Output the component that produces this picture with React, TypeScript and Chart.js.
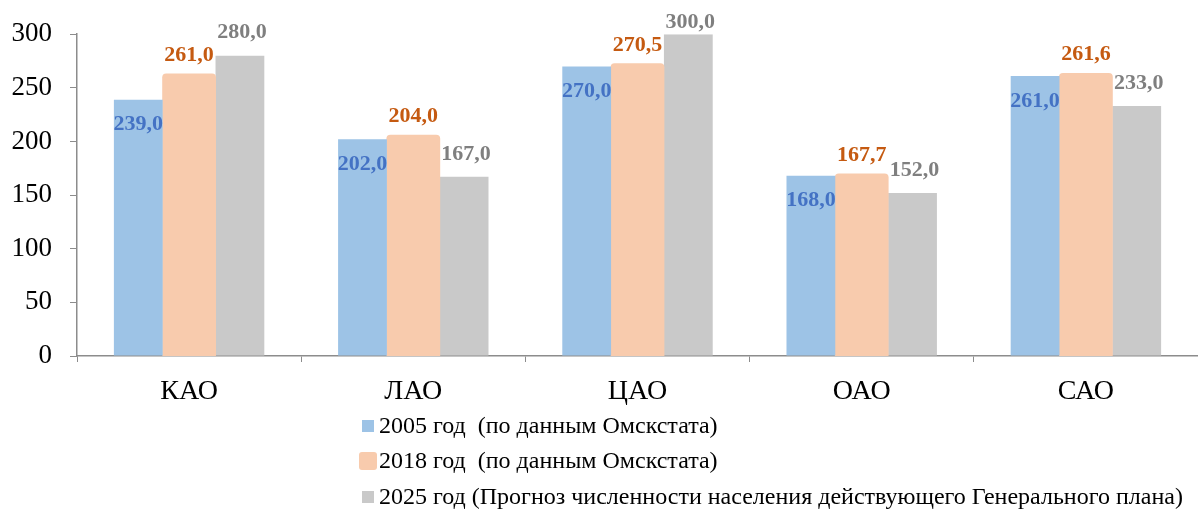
import React, { useEffect, useRef } from "react";
import { Chart, registerables } from "chart.js";

Chart.register(...registerables);

const categories = ["КАО", "ЛАО", "ЦАО", "ОАО", "САО"];
const values2005 = [239.0, 202.0, 270.0, 168.0, 261.0];
const values2018 = [261.0, 204.0, 270.5, 167.7, 261.6];
const values2025 = [280.0, 167.0, 300.0, 152.0, 233.0];
const seriesLabels = [
  "2005 год  (по данным Омскстата)",
  "2018 год  (по данным Омскстата)",
  "2025 год (Прогноз численности населения действующего Генерального плана)",
];
const yTicks = [0, 50, 100, 150, 200, 250, 300];

const FILL = ["#9DC3E6", "#F8CBAD", "#C9C9C9"];
const LABEL_COLOR = ["#4472C4", "#C55A11", "#7F7F7F"];
const LABEL_OFFSET = [25, -21, -23];
const SERIF = "'Liberation Serif', 'Times New Roman', serif";

const fmt = (v: number) => v.toFixed(1).replace(".", ",");

const valueLabels = {
  id: "valueLabels",
  afterDatasetsDraw(chart: any) {
    const ctx = chart.ctx;
    ctx.save();
    ctx.font = `bold 22px ${SERIF}`;
    ctx.textAlign = "center";
    ctx.textBaseline = "middle";
    chart.data.datasets.forEach((ds: any, di: number) => {
      const meta = chart.getDatasetMeta(di);
      meta.data.forEach((el: any, i: number) => {
        const v = ds.data[i];
        let y = el.y + LABEL_OFFSET[di];
        if (y < 22) y = 22;
        ctx.fillStyle = LABEL_COLOR[di];
        ctx.fillText(fmt(v), el.x + (di === 2 ? 2 : 0), y);
      });
    });
    ctx.restore();
  },
};

const customLegend = {
  id: "customLegend",
  afterDraw(chart: any) {
    const ctx = chart.ctx;
    ctx.save();
    ctx.font = `24px ${SERIF}`;
    ctx.textAlign = "left";
    ctx.textBaseline = "middle";
    const rows = [426, 461, 497];
    chart.data.datasets.forEach((ds: any, di: number) => {
      const cy = rows[di];
      ctx.fillStyle = ds.backgroundColor;
      if (di === 1) {
        ctx.beginPath();
        (ctx as any).roundRect(359, cy - 9, 18, 18, 3);
        ctx.fill();
      } else {
        ctx.fillRect(362, cy - 6, 12, 12);
      }
      ctx.fillStyle = "#000";
      ctx.fillText(ds.label, 379, cy + 1);
    });
    ctx.restore();
  },
};

export default function App() {
  const ref = useRef<HTMLCanvasElement | null>(null);
  useEffect(() => {
    document.body.style.margin = "0";
    const canvas = ref.current;
    if (!canvas) return;
    const data = [values2005, values2018, values2025];
    const chart = new Chart(canvas, {
      type: "bar",
      data: {
        labels: categories,
        datasets: data.map((d, i) => ({
          label: seriesLabels[i],
          data: d,
          backgroundColor: FILL[i],
          borderWidth: 0,
          borderRadius: i === 1 ? 4 : 0,
          inflateAmount: i === 1 ? 2.5 : 0,
          categoryPercentage: 0.68,
          barPercentage: 0.96,
        })),
      },
      options: {
        responsive: false,
        animation: false,
        layout: { padding: { top: 34, left: 0, right: 0, bottom: 0 } },
        plugins: {
          legend: { display: false },
          tooltip: { enabled: false },
        },
        scales: {
          x: {
            grid: {
              display: true,
              drawOnChartArea: false,
              drawTicks: true,
              tickLength: 6,
              color: "#8C8C8C",
              offset: true,
            },
            border: { display: true, color: "#8C8C8C", width: 1.5 },
            ticks: {
              color: "#000",
              font: { family: SERIF, size: 28 },
              padding: 13,
            },
            afterFit: (s: any) => {
              s.height = 153;
            },
          },
          y: {
            min: 0,
            max: 300,
            afterBuildTicks: (s: any) => {
              s.ticks = yTicks.map((v) => ({ value: v }));
            },
            grid: {
              display: true,
              drawOnChartArea: false,
              drawTicks: true,
              tickLength: 7,
              color: "#8C8C8C",
            },
            border: { display: true, color: "#8C8C8C", width: 1.5 },
            ticks: {
              color: "#000",
              font: { family: SERIF, size: 27 },
              padding: 18,
            },
            afterFit: (s: any) => {
              s.width = 77;
            },
          },
        },
      },
      plugins: [valueLabels, customLegend],
    });
    return () => chart.destroy();
  }, []);
  return (
    <div style={{ position: "absolute", left: 0, top: 0, width: 1198, height: 509, background: "#fff" }}>
      <canvas ref={ref} width={1198} height={509} />
    </div>
  );
}
